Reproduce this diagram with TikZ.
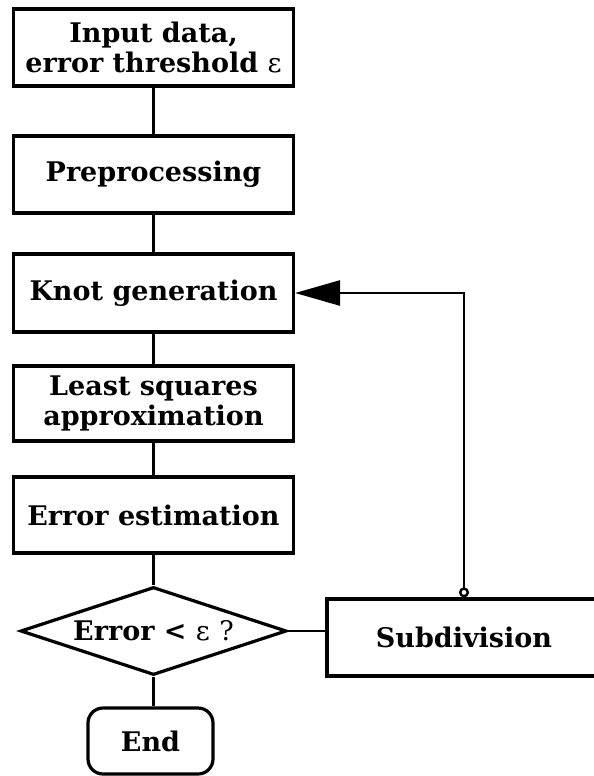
\documentclass[tikz,border=0pt]{standalone}
\usepackage{fontspec}
\setmainfont{DejaVu Serif}
\usetikzlibrary{shapes.geometric,arrows.meta}

\newcommand{\eps}{{\mdseries ε}}

\tikzset{
  labelfont/.style={font=\fontsize{27}{30}\selectfont\bfseries},
  stepbox/.style={draw, line width=3.2pt, minimum width=280pt, inner sep=0pt,
    align=center, labelfont},
  decision/.style={draw, diamond, line width=3.2pt, inner sep=0pt, aspect=3,
    minimum width=266pt, minimum height=88pt, labelfont},
  terminal/.style={draw, rounded corners=15pt, line width=3.2pt, inner sep=0pt,
    minimum width=125pt, minimum height=66pt, labelfont},
  link/.style={line width=2.6pt},
  feedback/.style={line width=2.6pt,
    {Circle[open,length=10pt,width=10pt,line width=2.4pt]}-{Triangle[length=45pt,width=25pt]}},
}

\begin{document}
\begin{tikzpicture}[x=1pt,y=-1pt]
  \useasboundingbox (0,0) rectangle (594,776);
  \clip (0,0) rectangle (594,776);

  % main column of processing steps
  \node[stepbox, minimum height=77pt] (input) at (153.5,47.5)
    {Input data,\\error threshold \eps};
  \node[stepbox, minimum height=77pt] (pre) at (153.5,174.5) {Preprocessing};
  \node[stepbox, minimum height=78pt] (knot) at (153.5,293) {Knot generation};
  \node[stepbox, minimum height=75pt] (lsq) at (153.5,403.5)
    {Least squares\\approximation};
  \node[stepbox, minimum height=76pt] (est) at (153.5,515) {Error estimation};

  % test and exits
  \node[decision] (test) at (153.5,631) {Error < \eps\ {\mdseries ?}};
  \node[terminal] (end) at (150.5,741) {End};
  \node[stepbox, minimum width=274pt, minimum height=77pt] (sub) at (464,637.5)
    {Subdivision};

  % connectors
  \draw[link] (input) -- (pre);
  \draw[link] (pre) -- (knot);
  \draw[link] (knot) -- (lsq);
  \draw[link] (lsq) -- (est);
  \draw[link] (est.south) -- (test.north);
  \draw[link] (test.south) -- (end.north -| test.south);
  \draw[link] (test.east) -- (sub.west |- test.east);

  % loop back to knot generation
  \draw[feedback] (sub.north) |- (knot.east);
\end{tikzpicture}
\end{document}
